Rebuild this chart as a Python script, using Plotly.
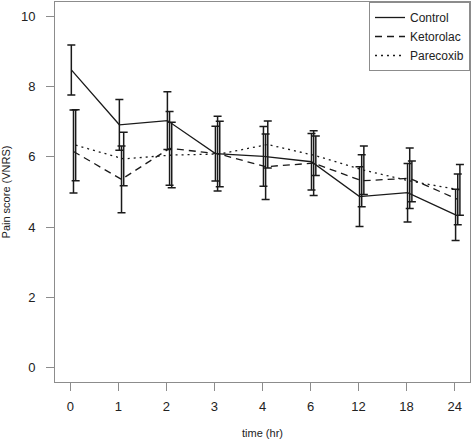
import plotly.graph_objects as go

time_labels = ["0", "1", "2", "3", "4", "6", "12", "18", "24"]

control_mean = [8.47, 6.91, 7.03, 6.09, 6.01, 5.86, 4.87, 4.98, 4.35]
control_err = [0.71, 0.72, 0.82, 0.78, 0.85, 0.80, 0.85, 0.83, 0.73]
ketorolac_mean = [6.15, 5.36, 6.24, 6.09, 5.72, 5.82, 5.32, 5.39, 4.79]
ketorolac_err = [1.18, 0.95, 1.05, 1.06, 0.93, 0.92, 0.74, 0.86, 0.72]
parecoxib_mean = [6.33, 5.94, 6.05, 6.08, 6.35, 6.03, 5.62, 5.30, 5.06]
parecoxib_err = [1.01, 0.76, 0.93, 0.93, 0.67, 0.56, 0.69, 0.58, 0.72]

series = [
    ("Control", control_mean, control_err, "solid", 0.02),
    ("Ketorolac", ketorolac_mean, ketorolac_err, "7px,5px", 0.065),
    ("Parecoxib", parecoxib_mean, parecoxib_err, "2px,4px", 0.11),
]

fig = go.Figure()
for name, mean, err, dash, off in series:
    xs = [i + 1 + off for i in range(len(mean))]
    fig.add_trace(go.Scatter(
        x=xs, y=mean, name=name, mode="lines",
        line=dict(color="#1a1a1a", width=1.3, dash=dash),
        error_y=dict(type="data", array=err, visible=True,
                     color="#1a1a1a", thickness=1.5, width=4),
    ))

axis_common = dict(
    showline=True, linecolor="#8c8c8c", linewidth=1, mirror=True,
    ticks="outside", tickcolor="#8c8c8c", ticklen=8, tickwidth=1,
    showgrid=False, zeroline=False,
    tickfont=dict(family="Liberation Sans, Arial", size=13, color="#222222"),
)

fig.update_layout(
    width=472, height=440,
    margin=dict(l=51, r=2, t=1, b=58),
    plot_bgcolor="white", paper_bgcolor="white",
    showlegend=True,
    legend=dict(
        x=1, y=1, xanchor="right", yanchor="top",
        bordercolor="#8c8c8c", borderwidth=1, bgcolor="white",
        font=dict(family="Liberation Sans, Arial", size=12, color="#222222"),
        tracegroupgap=0, itemwidth=30,
    ),
    xaxis=dict(
        range=[0.68, 9.32], tickvals=list(range(1, len(time_labels) + 1)),
        ticktext=time_labels, ticklabelstandoff=4,
        title=dict(text="time (hr)", standoff=16,
                   font=dict(family="Liberation Sans, Arial", size=11, color="#222222")),
        **axis_common,
    ),
    yaxis=dict(
        range=[-0.4, 10.4], tickvals=[0, 2, 4, 6, 8, 10],
        ticklabelstandoff=8,
        title=dict(text="Pain score (VNRS)", standoff=12,
                   font=dict(family="Liberation Sans, Arial", size=11, color="#222222")),
        **axis_common,
    ),
)

fig.write_html(
    "out.html",
    config={"displayModeBar": False},
    post_script="document.body.style.margin='0';document.body.style.overflow='hidden';",
)
